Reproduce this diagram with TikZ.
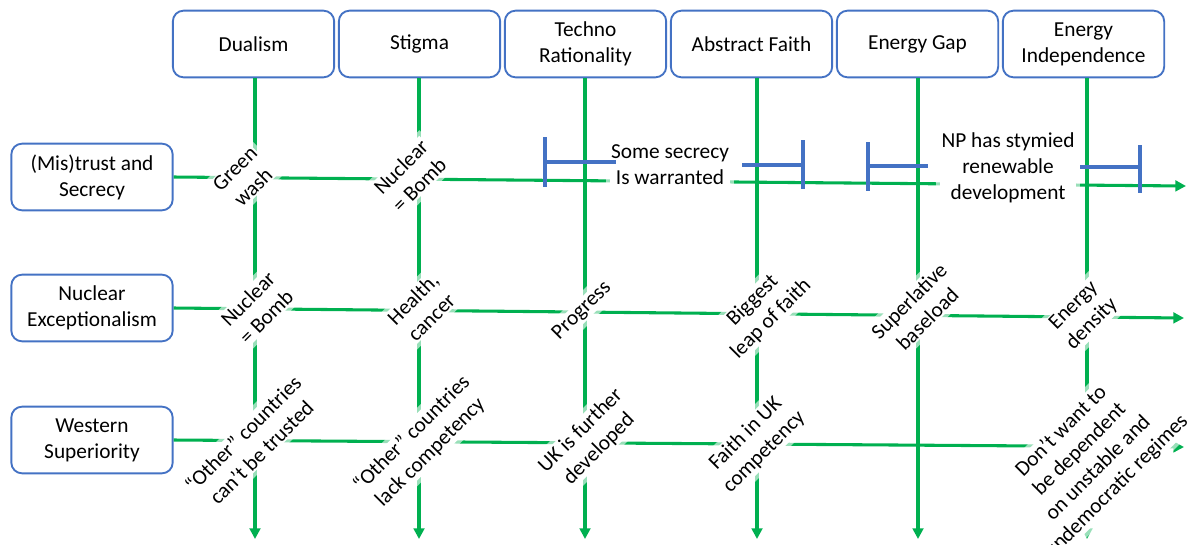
\documentclass[tikz,border=0pt]{standalone}
\usepackage{fontspec}
\setmainfont{Carlito}
\usetikzlibrary{arrows.meta}
\definecolor{glinecol}{HTML}{00B050}
\definecolor{bblue}{HTML}{4472C4}
\begin{document}
\begin{tikzpicture}[x=0.75pt,y=-0.75pt,
  every node/.style={font=\fontsize{16}{19.5}\selectfont, text=black},
  hbox/.style={draw=bblue, line width=1.4pt, rounded corners=8pt, fill=white,
    minimum width=121pt, minimum height=50pt, align=center, inner sep=2pt},
  greenarrow/.style={draw=glinecol, line width=2.3pt, -{Triangle[length=8pt,width=8pt]}},
  lab/.style={rotate=45, align=center, fill=white, draw=white, draw opacity=0.6,
    line width=6pt, inner sep=1pt},
  blab/.style={align=center, fill=white, draw=white, draw opacity=0.6,
    line width=6pt, inner sep=1pt},
  brk/.style={draw=bblue, line width=2.3pt}
]
\useasboundingbox (0,0) rectangle (1194,544);
% header boxes
\node[hbox] (h1) at (253.5,44) {Dualism};
\node[hbox] (h2) at (419.5,44) {Stigma};
\node[hbox] (h3) at (585.5,44) {Techno\\Rationality};
\node[hbox] (h4) at (751.5,44) {Abstract Faith};
\node[hbox] (h5) at (917.5,44) {Energy Gap};
\node[hbox] (h6) at (1083.5,44) {Energy\\Independence};
% row boxes
\node[hbox] (r1) at (92,177) {(Mis)trust and\\Secrecy};
\node[hbox] (r2) at (92,308) {Nuclear\\Exceptionalism};
\node[hbox] (r3) at (92,440) {Western\\Superiority};
% end coordinates
\coordinate (b1) at (255,539);
\coordinate (b2) at (419,539);
\coordinate (b3) at (585,539);
\coordinate (b4) at (757,539);
\coordinate (b5) at (918,539);
\coordinate (b6) at (1087,539);
\coordinate (e1) at (1186,186);
\coordinate (e2) at (1184,318);
\coordinate (e3) at (1184,447);
% lines
\foreach \i in {1,...,6} {\draw[greenarrow] (h\i.south -| b\i) -- (b\i);}
\foreach \i in {1,2,3} {\draw[greenarrow] (r\i.east) -- (e\i);}
% rotated labels
\node[lab] (l11) at (244,178) {Green\\wash};
\node[lab] (l12) at (410,176) {Nuclear\\= Bomb};
\node[lab] (l21) at (257,308) {Nuclear\\= Bomb};
\node[lab] (l22) at (422,308) {Health,\\cancer};
\node[lab] (l23) at (582,311) {Progress};
\node[lab] (l24) at (762,310) {Biggest\\leap of faith};
\node[lab] (l25) at (918,310) {Superlative\\baseload};
\node[lab] (l26) at (1083,315) {Energy\\density};
\node[lab] (l31) at (252,443) {“Other” countries\\can’t be trusted};
\node[lab] (l32) at (421,443) {“Other” countries\\lack competency};
\node[lab] (l33) at (590,440) {UK is further\\developed};
\node[lab] (l34) at (755,443) {Faith in UK\\competency};
\node[lab] (l36) at (1089,459) {Don’t want to\\be dependent\\on unstable and\\undemocratic regimes};
% brackets
\node[blab] (s1) at (670,165) {Some secrecy\\Is warranted};
\node[blab] (s2) at (1008,168) {NP has stymied\\renewable\\development};
\draw[brk] (545,137) -- (545,187);
\draw[brk] (545,162) -- (616,162);
\draw[brk] (742,165) -- (803,165);
\draw[brk] (803,140) -- (803,189);
\draw[brk] (868,142) -- (868,191);
\draw[brk] (868,166) -- (928,166);
\draw[brk] (1080,167) -- (1140,167);
\draw[brk] (1140,145) -- (1140,193);
\end{tikzpicture}
\end{document}
